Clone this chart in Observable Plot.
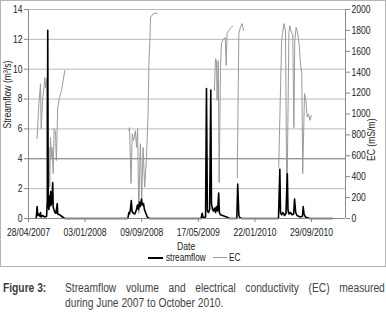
<!DOCTYPE html>
<html>
<head>
<meta charset="utf-8">
<script src="https://cdn.jsdelivr.net/npm/d3@7"></script>
<script src="https://cdn.jsdelivr.net/npm/@observablehq/plot@0.6"></script>
<style>
  html, body { margin: 0; padding: 0; background: #fff; }
  body { width: 386px; height: 316px; position: relative; overflow: hidden;
         font-family: "Liberation Sans", Arial, sans-serif; }
  #box { position: absolute; left: 0; top: 0; width: 384px; height: 265px; border: 1px solid #b5b5b5; }
  #chart { position: absolute; left: 0; top: 0; }
  .sx { display: inline-block; transform: scaleX(0.82); white-space: nowrap; }
  #xlabel { position: absolute; left: 0; width: 371px; top: 240px; height: 11px; text-align: center; font-size: 10.5px; line-height: 11px; color: #222; }
  .lg { position: absolute; top: 252px; height: 10px; font-size: 10px; line-height: 10px; color: #222; transform-origin: 0 0; white-space: nowrap; }
  .lgline { position: absolute; height: 0; }
  #caption { position: absolute; left: 3px; top: 281px; width: 382px; font-size: 12.5px; line-height: 15px; color: #444; }
  #caption .fig { position: absolute; left: 0; top: 0; font-weight: bold; color: #3d3d3d; transform: scaleX(0.82); transform-origin: 0 0; white-space: nowrap; }
  #caption .l1 { position: absolute; left: 62px; width: 390px; top: 0; text-align: justify; text-align-last: justify; white-space: nowrap; transform: scaleX(0.82); transform-origin: 0 0; }
  #caption .l2 { position: absolute; left: 62px; top: 15px; white-space: nowrap; transform: scaleX(0.82); transform-origin: 0 0; }
</style>
</head>
<body>
<div id="box">
  <div id="chart"></div>
  <div id="xlabel"><span class="sx">Date</span></div>
  <div id="legend"></div>
</div>
<div id="caption">
  <div class="fig">Figure 3:</div>
  <div class="l1"></div>
  <div class="l2"></div>
</div>
<script>
// ---- data ----
const xDomain = ["2007-04-28", "2011-02-26"];
const xTickDates = ["2007-04-28", "2008-01-03", "2008-09-09", "2009-05-17", "2010-01-22", "2010-09-29"];
const flowTicks = [0, 2, 4, 6, 8, 10, 12, 14];
const ecTicks = [0, 200, 400, 600, 800, 1000, 1200, 1400, 1600, 1800, 2000];
const flowMax = 14;
const ecMax = 2000;

const flowDates = [
  "2007-06-01","2007-06-05","2007-06-08","2007-06-13","2007-06-17","2007-06-20","2007-06-23","2007-06-29","2007-07-08","2007-07-17",
  "2007-07-20","2007-07-22","2007-07-24","2007-07-27","2007-07-29","2007-07-31","2007-08-04","2007-08-06","2007-08-10","2007-08-13",
  "2007-08-15","2007-08-18","2007-08-23","2007-08-27","2007-09-02","2007-09-04","2007-09-12","2007-09-21","2007-09-30","2007-10-06",
  "2008-07-10","2008-07-14","2008-07-17","2008-07-21","2008-07-25","2008-07-28","2008-08-03","2008-08-10","2008-08-17","2008-08-21",
  "2008-08-26","2008-08-30","2008-09-03","2008-09-08","2008-09-12","2008-09-17","2008-09-21","2008-09-26","2008-09-30","2008-10-04",
  "2008-10-09","2008-10-13",
  "2009-05-29","2009-06-03","2009-06-07","2009-06-18","2009-06-22","2009-06-26","2009-07-01","2009-07-06","2009-07-11","2009-07-14",
  "2009-07-19","2009-07-23","2009-07-28","2009-08-01","2009-08-05","2009-08-10","2009-08-15","2009-08-18","2009-08-23","2009-09-01",
  "2009-09-10","2009-09-19","2009-09-27","2009-10-02",
  "2009-11-03","2009-11-07","2009-11-12","2009-11-17","2009-11-24",
  "2010-05-06","2010-05-12","2010-05-15","2010-05-20","2010-05-26","2010-06-02","2010-06-08","2010-06-14","2010-06-17","2010-06-22",
  "2010-06-28","2010-07-05","2010-07-12","2010-07-16","2010-07-21","2010-07-27","2010-08-03","2010-08-11","2010-08-20","2010-08-23",
  "2010-08-27","2010-09-02","2010-09-11","2010-09-20","2010-12-31"
];
const flowValues = [
  0, 0.8, 0.2, 0.3, 0.15, 0.4, 0.1, 0.2, 0.1, 0.15,
  1.2, 12.6, 1.0, 0.6, 1.5, 0.8, 1.8, 0.9, 1.2, 2.4,
  0.8, 0.6, 0.4, 0.35, 1.0, 0.3, 0.25, 0.15, 0.05, 0,
  0, 0.4, 0.3, 0.6, 1.2, 0.5, 0.35, 0.3, 0.6, 0.9,
  0.6, 1.1, 0.8, 1.3, 0.9, 1.0, 0.6, 0.4, 0.25, 0.1,
  0.03, 0,
  0, 0.35, 0.05, 0.1, 8.7, 0.5, 0.4, 0.6, 8.6, 1.0,
  0.6, 0.5, 0.7, 0.4, 0.8, 0.5, 1.7, 0.4, 0.25, 0.2,
  0.15, 0.1, 0.03, 0,
  0, 2.3, 0.2, 0.05, 0,
  0, 3.3, 0.4, 0.25, 0.4, 0.2, 0.35, 3.0, 0.6, 0.3,
  0.4, 0.25, 0.3, 1.3, 0.4, 0.2, 0.15, 0.1, 0.15, 0.8,
  0.3, 0.1, 0.05, 0, 0
];

const ecDates = [
  "2007-06-05","2007-06-13","2007-06-20","2007-06-23","2007-06-30","2007-07-04","2007-07-09","2007-07-13","2007-07-17","2007-07-20",
  "2007-07-22","2007-07-27","2007-07-31","2007-08-03","2007-08-07","2007-08-10","2007-08-15","2007-08-19","2007-08-25","2007-08-29",
  "2007-09-04","2007-09-12","2007-09-21","2007-09-28","2007-10-05","2007-10-06",
  "2008-07-14","2008-07-17","2008-07-24","2008-07-29","2008-08-04","2008-08-12","2008-08-17","2008-08-22","2008-08-27","2008-09-03",
  "2008-09-09","2008-09-15","2008-09-22","2008-09-30","2008-10-07","2008-10-11","2008-10-15","2008-10-18","2008-10-30","2008-11-16",
  "2008-11-17",
  "2009-07-27","2009-08-01","2009-08-05","2009-08-08","2009-08-13","2009-08-17","2009-08-23","2009-08-27","2009-09-01","2009-09-06",
  "2009-09-13","2009-09-17","2009-09-21","2009-09-29","2009-10-06","2009-10-15","2009-10-16",
  "2009-11-05","2009-11-12","2009-11-19","2009-11-26","2009-12-03","2009-12-04",
  "2010-05-07","2010-05-20","2010-05-24","2010-05-30","2010-06-06","2010-06-12","2010-06-21","2010-06-25","2010-07-02","2010-07-08",
  "2010-07-13","2010-07-17","2010-07-23","2010-07-30","2010-08-05","2010-08-11","2010-08-17","2010-08-21","2010-08-29","2010-09-04",
  "2010-09-10","2010-09-16","2010-09-22","2010-09-28"
];
const ecValues = [
  765, 1100, 1290, 860, 1160, 1220, 1350, 1250, 1340, 430,
  270, 680, 300, 775, 585, 680, 430, 860, 830, 555,
  1060, 1160, 1225, 1320, 1415, null,
  840, 870, 335, 810, 745, 840, 680, 860, 50, 715,
  170, 680, 300, 585, 1000, 1500, 1700, 1925, 1960, 1965,
  null,
  1225, 1530, 1510, 1130, 1510, 345, 1445, 1675, 1700, 1720,
  1730, 1465, 1770, 1800, 1820, 1840, null,
  390, 1770, 1830, 1865, 1800, null,
  490, 1700, 1770, 1865, 1800, 50, 1770, 1845, 1780, 1770,
  870, 1700, 1830, 1770, 1675, 1480, 1385, 430, 1195, 1130,
  970, 1000, 940, 985
];

const seriesNames = ["streamflow", "EC"];
const seriesColors = ["#000", "#9a9a9a"];
const yLeftLabel = "Streamflow (m³/s)";
const yRightLabel = "EC (mS/m)";
const captionLine1 = "Streamflow volume and electrical conductivity (EC) measured";
const captionLine2 = "during June 2007 to October 2010.";

// ---- build ----
const k = flowMax / ecMax;
const flowData = flowDates.map((d, i) => ({date: new Date(d), value: flowValues[i]}));
const ecData = ecDates.map((d, i) => ({date: new Date(d), ec: ecValues[i]}));
const fmt = d3.utcFormat("%d/%m/%Y");
const FONT = '"Liberation Sans", Arial, sans-serif';
const SX = 0.82;

const chart = Plot.plot({
  width: 384,
  height: 237,
  marginLeft: 27,
  marginRight: 40,
  marginTop: 8,
  marginBottom: 20,
  style: {fontFamily: FONT, fontSize: "10.5px", color: "#222", background: "transparent", overflow: "visible"},
  x: {type: "utc", domain: xDomain.map(d => new Date(d))},
  y: {domain: [0, flowMax]},
  marks: [
    Plot.ruleY(flowTicks.filter(v => v > 0 && v !== 4), {stroke: "#b9b9b9", strokeWidth: 1}),
    Plot.ruleY(flowTicks.filter(v => v === 4), {stroke: "#6e6e6e", strokeWidth: 1}),
    Plot.line(ecData, {x: "date", y: d => d.ec == null ? NaN : d.ec * k, stroke: seriesColors[1], strokeWidth: 1}),
    Plot.line(flowData, {x: "date", y: "value", stroke: seriesColors[0], strokeWidth: 1.6}),
    Plot.ruleY([0], {stroke: "#888"}),
    Plot.ruleX(xDomain.map(d => new Date(d)), {stroke: "#8a8a8a"}),
    Plot.axisX({ticks: xTickDates.map(d => new Date(d)), tickFormat: fmt, tickSize: 4, tickPadding: 6, label: null, stroke: "#888"}),
    Plot.axisY({anchor: "left", ticks: flowTicks, tickSize: 4, tickPadding: 2, label: null, stroke: "#888"}),
    Plot.axisY({anchor: "right", ticks: ecTicks.map(v => v * k), tickFormat: v => String(Math.round(v / k)), tickSize: 4, tickPadding: 2, label: null, stroke: "#888"}),
    Plot.text([yLeftLabel], {text: d => d, frameAnchor: "left", dx: -20.5, dy: 14.5, rotate: -90, fill: "#222"}),
    Plot.text([yRightLabel], {text: d => d, frameAnchor: "right", dx: 26, dy: 4.5, rotate: -90, fill: "#222"})
  ]
});
// condense every label horizontally around its anchor (narrow typeface look)
d3.select(chart).selectAll("text").each(function () {
  const t = this.getAttribute("transform");
  if (t) {
    this.setAttribute("transform", t + ` scale(${SX},1)`);
  } else {
    const x = +this.getAttribute("x") || 0, y = +this.getAttribute("y") || 0;
    this.removeAttribute("x"); this.removeAttribute("y");
    this.setAttribute("transform", `translate(${x},${y}) scale(${SX},1)`);
  }
});
document.getElementById("chart").appendChild(chart);

// legend (positions in box coordinates)
const legend = document.getElementById("legend");
const legendItems = [
  {name: seriesNames[0], color: seriesColors[0], x0: 147, w: 15, sw: 2, tx: 165},
  {name: seriesNames[1], color: seriesColors[1], x0: 212, w: 14, sw: 1, tx: 228}
];
legendItems.forEach(it => {
  const ln = document.createElement("div");
  ln.className = "lgline";
  ln.style.left = it.x0 + "px";
  ln.style.top = (256.5 - it.sw / 2) + "px";
  ln.style.width = it.w + "px";
  ln.style.borderTop = `${it.sw}px solid ${it.color}`;
  legend.appendChild(ln);
  const tx = document.createElement("div");
  tx.className = "lg";
  tx.style.left = it.tx + "px";
  tx.style.transform = `scaleX(${SX})`;
  tx.textContent = it.name;
  legend.appendChild(tx);
});

document.querySelector("#caption .l1").textContent = captionLine1;
document.querySelector("#caption .l2").textContent = captionLine2;
</script>
</body>
</html>
